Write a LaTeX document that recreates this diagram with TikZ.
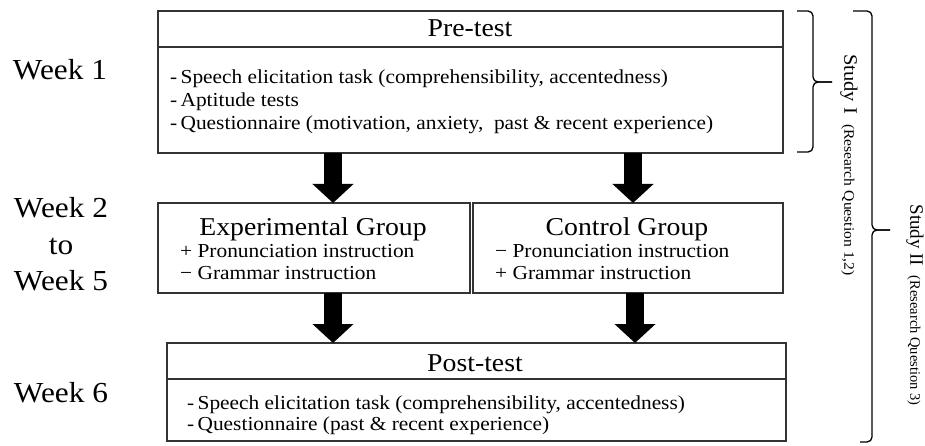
\documentclass[tikz,border=0pt]{standalone}
\usepackage{fontspec}
\setmainfont{Liberation Serif}[FakeStretch=1.08]
\newfontfamily\rotfont{Liberation Serif}
\usetikzlibrary{arrows.meta,calc}
\begin{document}
\begin{tikzpicture}[x=1pt,y=-1pt,
  box/.style={draw=black!80, line width=1.2pt, inner sep=0pt, outer sep=0pt},
  divider/.style={draw=black!80, line width=1.2pt},
  bigarrow/.style={line width=18pt, draw=black, -{Triangle[width=40pt,length=19pt]}},
  weektxt/.style={font=\fontsize{29}{32}\selectfont, inner sep=0pt, anchor=base},
  headtxt/.style={font=\fontsize{25.7}{29}\selectfont, inner sep=0pt, anchor=base},
  itemtxt/.style={font=\fontsize{19.8}{23}\selectfont, inner sep=0pt, anchor=base west},
  bracepath/.style={draw=black, line width=1.3pt, rounded corners=5pt},
  studylabel/.style={rotate=-90, inner sep=0pt}
]
\useasboundingbox (0,0) rectangle (925,446);

% boxes
\node[box, minimum width=625pt, minimum height=142pt] (pre) at (470.5,82) {};
\node[box, minimum width=312pt, minimum height=90pt] (exp) at (314,248) {};
\node[box, minimum width=310pt, minimum height=90pt] (ctrl) at (628,248) {};
\node[box, minimum width=619pt, minimum height=98pt] (post) at (476.5,392) {};

\draw[divider] ($(pre.north west)+(0,36)$) -- ($(pre.north east)+(0,36)$);
\draw[divider] ($(post.north west)+(0,36)$) -- ($(post.north east)+(0,36)$);

% texts
\node[headtxt] (pretitle) at (470,37) {Pre-test};
\node[itemtxt] (pre1) at (170,84) {-\,Speech elicitation task (comprehensibility, accentedness)};
\node[itemtxt] (pre2) at (170,107) {-\,Aptitude tests};
\node[itemtxt] (pre3) at (170,130) {-\,Questionnaire (motivation, anxiety,\ \ past \& recent experience)};

\node[headtxt] (exptitle) at (313,235) {Experimental Group};
\node[itemtxt] (exp1) at (180,257) {+ Pronunciation instruction};
\node[itemtxt] (exp2) at (180,279) {− Grammar instruction};

\node[headtxt] (ctrltitle) at (627,235) {Control Group};
\node[itemtxt] (ctrl1) at (495,257) {− Pronunciation instruction};
\node[itemtxt] (ctrl2) at (495,279) {+ Grammar instruction};

\node[headtxt] (posttitle) at (475,371) {Post-test};
\node[itemtxt] (post1) at (187,409) {-\,Speech elicitation task (comprehensibility, accentedness)};
\node[itemtxt] (post2) at (187,430) {-\,Questionnaire (past \& recent experience)};

\node[weektxt] (w1) at (60,80) {Week 1};
\node[weektxt] (w2) at (61,218) {Week 2};
\node[weektxt] (wto) at (61,254) {to};
\node[weektxt] (w5) at (61,290) {Week 5};
\node[weektxt] (w6) at (61,402) {Week 6};

% arrows
\coordinate (ax1) at (333,0);
\coordinate (ax2) at (633,0);
\coordinate (ax3) at (333,0);
\coordinate (ax4) at (635,0);
\draw[bigarrow] (pre.south -| ax1) -- (exp.north -| ax1);
\draw[bigarrow] (pre.south -| ax2) -- (ctrl.north -| ax2);
\draw[bigarrow] (exp.south -| ax3) -- (post.north -| ax3);
\draw[bigarrow] (ctrl.south -| ax4) -- (post.north -| ax4);

% braces
\coordinate (b1top) at (797,11);
\coordinate (b1bot) at (797,152);
\coordinate (b1tip) at (832,82);
\draw[bracepath] (b1top) -- (813,11) -- (813,82) -- (b1tip);
\draw[bracepath] (b1bot) -- (813,152) -- (813,82) -- (b1tip);

\coordinate (b2top) at (853,11);
\coordinate (b2bot) at (860,442);
\coordinate (b2tip) at (890,230);
\draw[bracepath] (b2top) -- (872,11) -- (872,230) -- (b2tip);
\draw[bracepath] (b2bot) -- (872,442) -- (872,230) -- (b2tip);

\node[studylabel] (s1) at (849,165) {\fontsize{19}{22}\selectfont Study I\ \ {\fontsize{14.5}{17}\selectfont(Research Question 1,2)}};
\node[studylabel, font=\rotfont] (s2) at (915,305) {\fontsize{19}{22}\selectfont Study II\ \ {\fontsize{14.5}{17}\selectfont(Research Question 3)}};
\end{tikzpicture}
\end{document}
